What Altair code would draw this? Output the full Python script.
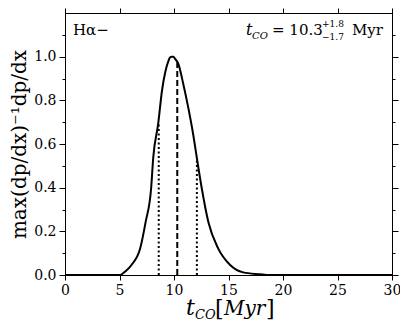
import altair as alt
import pandas as pd

# curve
t_vals = [0, 5.0, 5.2, 5.5, 6.1, 6.9, 7.4, 7.9, 8.1, 8.55, 8.9, 9.2, 9.5, 9.65, 9.8, 9.95,
          10.1, 10.4, 10.85, 11.3, 11.75, 12.1, 12.55, 13.15, 14.05, 15.15, 16.35, 17.9, 18.5, 30]
p_vals = [0, 0, 0.003, 0.015, 0.046, 0.122, 0.243, 0.396, 0.54, 0.693, 0.845, 0.93, 0.982, 0.997,
          1.0, 1.0, 0.99, 0.967, 0.875, 0.769, 0.647, 0.535, 0.396, 0.243, 0.122, 0.046, 0.012, 0.003, 0, 0]

# median and 1-sigma markers
mark_t = [8.6, 10.3, 12.1]
mark_top = [0.70, 0.975, 0.53]
mark_kind = ["lo", "med", "hi"]

x_ticks = [0, 5, 10, 15, 20, 25, 30]
y_ticks = [round(i * 0.1, 1) for i in range(12)]

FONT = "DejaVu Serif"

curve_df = pd.DataFrame({"t": t_vals, "p": p_vals})
mark_df = pd.DataFrame({"t": mark_t, "top": mark_top, "kind": mark_kind, "zero": [0, 0, 0]})

xscale = alt.Scale(domain=[0, 30], nice=False, zero=False)
yscale = alt.Scale(domain=[0, 1.2], nice=False)

minor_test = "round(datum.value*10) % 2 == 1"

x_bottom = alt.Axis(values=x_ticks, title=None, grid=False, labelFont=FONT, labelFontSize=14,
                    labelColor="black", tickColor="black", domainColor="black", tickSize=5,
                    labelPadding=3, format="d", labelFlush=False)
y_left = alt.Axis(values=y_ticks, title="max(dp/dx)⁻¹dp/dx", titleFont=FONT, titleFontSize=20,
                  titleFontWeight="normal", titleColor="black", titlePadding=4,
                  grid=False, labelFont=FONT, labelFontSize=14, labelColor="black",
                  tickColor="black", domainColor="black", labelFlush=False,
                  tickSize=alt.ConditionalAxisNumber(condition={"test": minor_test, "value": 3}, value=6),
                  labelExpr="round(datum.value*10) % 2 == 0 ? format(datum.value, '.1f') : ''",
                  labelPadding=3)
x_top = alt.Axis(values=x_ticks, orient="top", labels=False, title=None, grid=False,
                 tickColor="black", domainColor="black", tickSize=5)
y_right = alt.Axis(values=y_ticks, orient="right", labels=False, title=None, grid=False,
                   tickColor="black", domainColor="black",
                   tickSize=alt.ConditionalAxisNumber(condition={"test": minor_test, "value": 3}, value=6))

curve = alt.Chart(curve_df).mark_line(color="black", strokeWidth=2, interpolate="monotone").encode(
    x=alt.X("t:Q", scale=xscale, axis=x_bottom),
    y=alt.Y("p:Q", scale=yscale, axis=y_left),
)

frame = alt.Chart(curve_df).mark_line(opacity=0).encode(
    x=alt.X("t:Q", scale=xscale, axis=x_top),
    y=alt.Y("p:Q", scale=yscale, axis=y_right),
)

dash_map = alt.Scale(domain=["lo", "med", "hi"], range=[[2, 2.5], [6, 3], [2, 2.5]])
rules = alt.Chart(mark_df).mark_rule(color="black", strokeWidth=2).encode(
    x=alt.X("t:Q", scale=xscale, axis=None),
    y=alt.Y("zero:Q", scale=yscale, axis=None),
    y2="top:Q",
    strokeDash=alt.StrokeDash("kind:N", scale=dash_map, legend=None),
)


def txt(s, x, y, size, italic=False, align="left"):
    return alt.Chart(pd.DataFrame({"s": [s]})).mark_text(
        font=FONT, fontSize=size, fontStyle="italic" if italic else "normal",
        align=align, baseline="alphabetic", color="black"
    ).encode(text="s:N", x=alt.value(x), y=alt.value(y))


texts = [
    txt("Hα−", 8, 22, 15),
    txt("t", 181, 22, 16, italic=True),
    txt("CO", 187, 26, 10, italic=True),
    txt("= 10.3", 207, 22, 15),
    txt("+1.8", 257, 14, 9),
    txt("−1.7", 257, 27, 9),
    txt("Myr", 318, 22, 15, align="right"),
    # x axis title
    txt("t", 121, 302, 22, italic=True),
    txt("CO", 130, 306, 13, italic=True),
    txt("[", 150, 303, 22),
    txt("Myr", 159, 302, 20, italic=True),
    txt("]", 201, 303, 22),
]

chart = alt.layer(curve, rules, frame, *texts).resolve_axis(
    x="independent", y="independent"
).properties(
    width=327, height=262,
    autosize=alt.AutoSizeParams(type="none"),
    padding={"left": 57, "top": 5, "right": 8, "bottom": 50},
).configure_view(stroke="black", strokeWidth=1)

chart.save("out.html", embed_options={"renderer": "svg", "actions": False})
